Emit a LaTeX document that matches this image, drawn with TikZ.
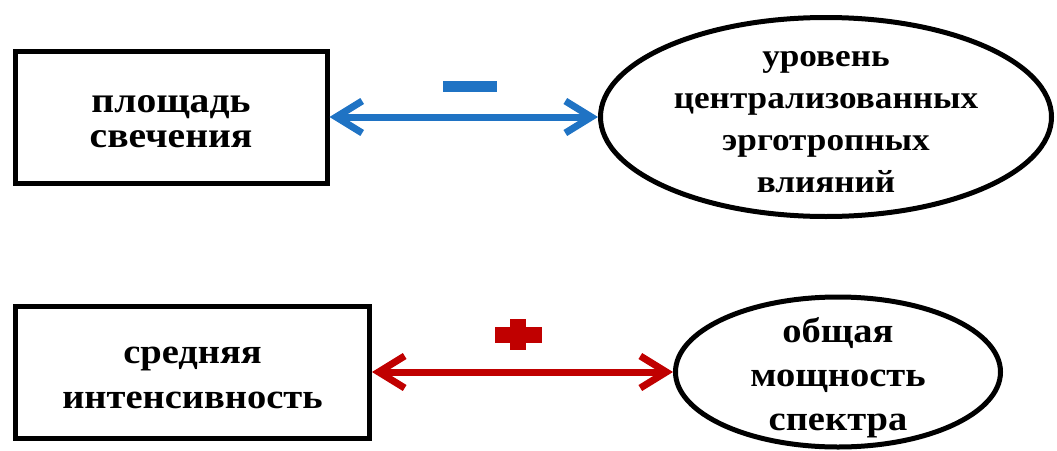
\documentclass[tikz,border=0pt]{standalone}
\usepackage{fontspec}
\setmainfont{Liberation Serif}
\newfontfamily\widefont[FakeStretch=1.1]{Liberation Serif}
\usetikzlibrary{shapes.geometric,arrows.meta}
\definecolor{myblue}{HTML}{1F73C4}
\definecolor{myred}{HTML}{C00000}
\tikzset{
  boxnode/.style={draw=black,line width=5pt,rectangle,inner sep=0pt},
  ovalnode/.style={draw=black,line width=5pt,ellipse,inner sep=0pt},
  textlabel/.style={align=center,inner sep=0pt},
  link/.style={line width=7pt,{Straight Barb[length=26pt,width=32pt]}-{Straight Barb[length=26pt,width=32pt]}},
}
\begin{document}
\begin{tikzpicture}[x=1pt,y=-1pt]
\useasboundingbox (0,0) rectangle (1057,450);
\node[boxnode,minimum width=312pt,minimum height=132pt,
  label={[textlabel,yshift=-4.5pt,font=\widefont\bfseries\fontsize{36}{35.5}\selectfont]center:площадь\\свечения}] (b1) at (171,117) {};
\node[ovalnode,minimum width=451pt,minimum height=199pt,
  label={[textlabel,yshift=-5pt,font=\widefont\bfseries\fontsize{32}{42}\selectfont]center:уровень\\централизованных\\эрготропных\\влияний}] (e1) at (826,117) {};
\node[boxnode,minimum width=354pt,minimum height=132pt,
  label={[textlabel,yshift=-6pt,font=\widefont\bfseries\fontsize{35}{45}\selectfont]center:средняя\\интенсивность}] (b2) at (192.5,372) {};
\node[ovalnode,minimum width=325pt,minimum height=150pt,
  label={[textlabel,yshift=-6pt,font=\widefont\bfseries\fontsize{35}{44}\selectfont]center:общая\\мощность\\спектра}] (e2) at (838,372) {};
\draw[link,myblue] (b1.east) -- (e1.west);
\draw[link,myred] (b2.east) -- (e2.west);
\fill[myblue] (443,81) rectangle (497,92);
\fill[myred] (495,327) rectangle (542,343);
\fill[myred] (510,319) rectangle (526,350);
\end{tikzpicture}
\end{document}
